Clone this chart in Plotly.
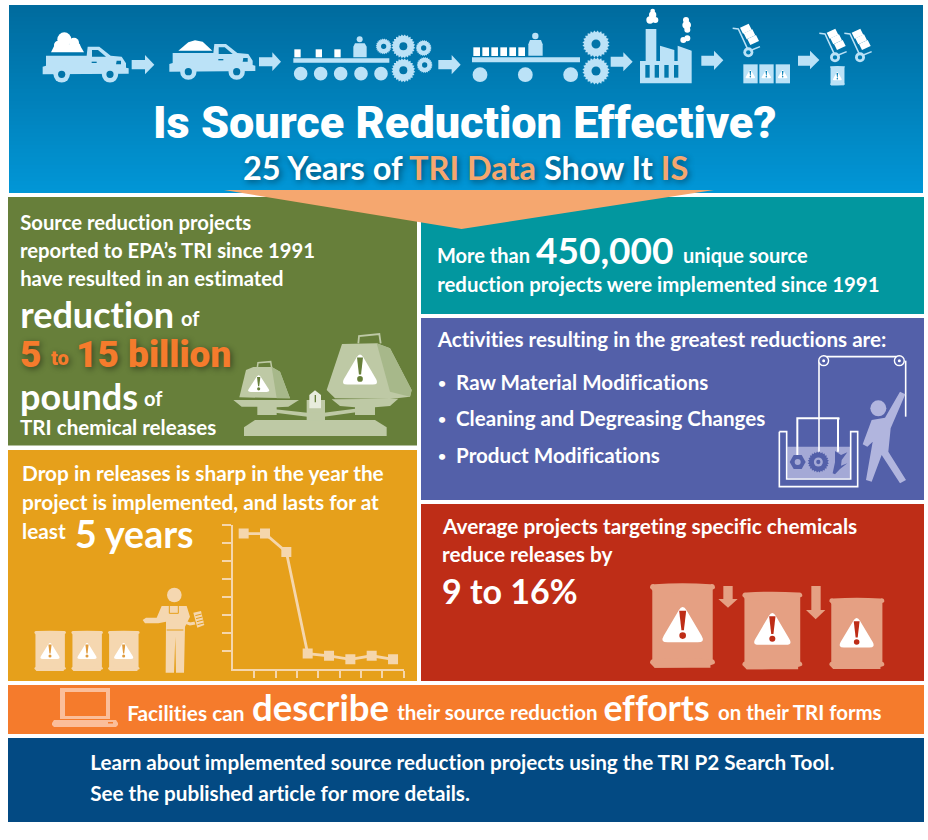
import math
import plotly.graph_objects as go

# released amount (unlabelled axis)
years = [1, 2, 3, 4, 5, 6, 7, 8]
releases = [7.52, 7.52, 6.5, 0.84, 0.72, 0.52, 0.72, 0.52]
x_ticks = [1.5, 2.5, 3.5, 4.5, 5.5, 6.5, 7.5, 8.5]
y_ticks = [1, 2, 3, 4, 5, 6, 7, 8]

title = "Is Source Reduction Effective?"
subtitle = '25 Years of <span style="color:#F5A76F">TRI Data</span> Show It <span style="color:#F5A76F">IS</span>'
green_lines = ["Source reduction projects", "reported to EPA\u2019s TRI since 1991", "have resulted in an estimated"]
purple_items = ["Raw Material Modifications", "Cleaning and Degreasing Changes", "Product Modifications"]
amber_lines = ["Drop in releases is sharp in the year the", "project is implemented, and lasts for at"]
red_lines = ["Average projects targeting specific chemicals", "reduce releases by"]
navy_lines = ["Learn about implemented source reduction projects using the TRI P2 Search Tool.",
              "See the published article for more details."]

FONT = "Lato"
HEAVY = "Roboto"
WHITE = "#FFFFFF"
ICON = "#BBE2F7"
shapes = []
notes = []


def rect(x0, y0, x1, y1, color):
    shapes.append(dict(type="rect", x0=x0, y0=y0, x1=x1, y1=y1, fillcolor=color, line_width=0, layer="below"))


def circ(cx, cy, r, color):
    shapes.append(dict(type="circle", x0=cx - r, y0=cy - r, x1=cx + r, y1=cy + r, fillcolor=color, line_width=0, layer="below"))


def poly(pts, color):
    d = "M" + " L".join("%.2f,%.2f" % p for p in pts) + " Z"
    shapes.append(dict(type="path", path=d, fillcolor=color, line_width=0, layer="below"))


def stroke(pts, color, w):
    d = "M" + " L".join("%.2f,%.2f" % p for p in pts)
    shapes.append(dict(type="path", path=d, line=dict(color=color, width=w), layer="below"))


def label(x, y, text, size, color=WHITE, anchor="left", weight=700, shadow=None, family=FONT):
    f = dict(family=family, size=size, color=color, weight=weight)
    if shadow:
        f["shadow"] = shadow
    notes.append(dict(x=x, y=y, xref="x", yref="y", text=text, showarrow=False, xanchor=anchor, yanchor="middle",
                      font=f, borderpad=0, borderwidth=0))


# icon coordinates below are taken from 3x crops, so every icon has its own origin
def zoomed(ox, oy):
    return lambda x, y: (ox + x / 3, oy + y / 3)


def gear(m, cx, cy, r, hole, color=ICON, dot=False):
    c = m(cx, cy)
    R = r / 3
    pts = []
    for i in range(48):
        a = i * math.pi / 24
        rr = R if i % 2 else R * 0.86
        pts.append((c[0] + rr * math.cos(a), c[1] + rr * math.sin(a)))
    poly(pts, color)
    circ(c[0], c[1], R * (0.42 if dot else 0.33), hole)
    if dot:
        circ(c[0], c[1], R * 0.2, color)


def warn(m, cx, cy, w, h, fill, mark):
    # triangle with rounded corners, a bit oversized because rounding eats the tips
    a = m(cx, cy - h * 0.58)
    l = m(cx - w * 0.58, cy + h * 0.52)
    r = m(cx + w * 0.58, cy + h * 0.52)
    v = [a, r, l]
    t = 0.17
    d = ""
    for i in range(3):
        cur, prv, nxt = v[i], v[i - 1], v[(i + 1) % 3]
        p1 = (cur[0] + (prv[0] - cur[0]) * t, cur[1] + (prv[1] - cur[1]) * t)
        p2 = (cur[0] + (nxt[0] - cur[0]) * t, cur[1] + (nxt[1] - cur[1]) * t)
        d += "%s%.2f,%.2f Q%.2f,%.2f %.2f,%.2f " % ("M" if i == 0 else "L", p1[0], p1[1], cur[0], cur[1], p2[0], p2[1])
    shapes.append(dict(type="path", path=d + "Z", fillcolor=fill, line_width=0, layer="below"))
    top = m(cx, cy - h / 2)
    hh = m(cx, cy + h / 2)[1] - top[1]
    ww = hh * 0.1
    poly([(top[0] - ww, top[1] + hh * 0.12), (top[0] + ww, top[1] + hh * 0.12), (top[0] + ww * 0.35, top[1] + hh * 0.68), (top[0] - ww * 0.35, top[1] + hh * 0.68)], mark)
    circ(top[0], top[1] + hh * 0.83, ww * 0.95, mark)


def drum(m, x0, y0, x1, y1, color):
    p0 = m(x0, y0)
    p1 = m(x1, y1)
    rim = (p1[1] - p0[1]) * 0.11
    ins = (p1[0] - p0[0]) * 0.035
    rect(p0[0] + ins, p0[1] + rim * 0.5, p1[0] - ins, p1[1] - rim * 0.5, color)
    for top, bot in ((p0[1], p0[1] + rim), (p1[1] - rim, p1[1])):
        mid = (top + bot) / 2
        d = "M%.2f,%.2f Q%.2f,%.2f %.2f,%.2f Q%.2f,%.2f %.2f,%.2f Q%.2f,%.2f %.2f,%.2f Q%.2f,%.2f %.2f,%.2f Z" % (
            p0[0], mid, p0[0], top, p0[0] + ins * 2, top + rim * 0.1,
            (p0[0] + p1[0]) / 2, top - rim * 0.1, p1[0] - ins * 2, top + rim * 0.1,
            p1[0], top, p1[0], mid, p1[0], bot, p0[0] + ins * 2, bot)
        shapes.append(dict(type="path", path=d, fillcolor=color, line_width=0, layer="below"))
        rect(p0[0] + ins * 2, mid, p1[0] - ins * 2, bot, color)


def arrow(m, x0, head, tip, y0, y1, top, bot, color=ICON):
    mid = (top + bot) / 2
    poly([m(x0, y0), m(head, y0), m(head, top), m(tip, mid), m(head, bot), m(head, y1), m(x0, y1)], color)


def truck(m, dx, dy, hole):
    t = lambda x, y: m(x + dx, y + dy)
    poly([t(78, 152), t(200, 152), t(203, 125), t(238, 125), t(272, 152), t(305, 155), t(318, 175), t(318, 188),
          t(326, 190), t(326, 206), t(68, 208), t(68, 185), t(78, 182)], ICON)
    for wx in (125, 270):
        c = t(wx, 208)
        circ(c[0], c[1], 8.2, ICON)
        circ(c[0], c[1], 3.6, hole)
    poly([t(216, 135), t(234, 135), t(258, 155), t(216, 155)], hole)
    poly([t(290, 167), t(303, 167), t(303, 178), t(288, 178)], hole)
    poly([t(215, 170), t(230, 170), t(230, 174), t(215, 174)], hole)


# ---- panels
top_c, bot_c = (0, 107, 158), (1, 150, 214)
n = 47
for i in range(n):
    f = i / (n - 1)
    col = "rgb(%d,%d,%d)" % tuple(round(top_c[k] + (bot_c[k] - top_c[k]) * f) for k in range(3))
    rect(9, 5 + i * 4, 923, 5 + (i + 1) * 4, col)
rect(8, 197, 417, 445.5, "#677F3A")
rect(421, 197, 924, 314, "#02979F")
rect(421, 318, 924, 500, "#5360A9")
rect(8, 450, 417, 681, "#E6A01B")
rect(421, 504, 924, 681, "#BE2D17")
rect(8, 685, 924, 734, "#F57B2C")
rect(8, 738, 924, 822, "#034A83")
poly([(224, 190), (714, 190), (461.5, 229)], "#F5A76F")

# ---- header icons
m4 = zoomed(20, 5)
m5 = zoomed(430, 5)
H1 = "#0174A8"
truck(m4, 0, 0, H1)
truck(m4, 380, -8, H1)
for cx, cy, r in ((133, 103, 21), (162, 113, 15), (115, 120, 13), (170, 124, 11)):
    p = m4(cx, cy)
    circ(p[0], p[1], r / 3, WHITE)
poly([m4(105, 118), m4(178, 118), m4(192, 142), m4(93, 142)], WHITE)
poly([m4(475, 137), m4(505, 112), m4(525, 106), m4(548, 110), m4(577, 137)], WHITE)
arrow(m4, 335, 375, 403, 165, 193, 150, 208)
arrow(m4, 717, 757, 783, 157, 184, 142, 198)
arrow(m4, 1255, 1295, 1322, 165, 193, 150, 208)
arrow(m5, 542, 580, 608, 155, 185, 142, 199)
arrow(m5, 814, 852, 880, 152, 182, 137, 195)
arrow(m5, 1104, 1140, 1168, 152, 182, 137, 193)

# first conveyor
poly([m4(820, 160), m4(1108, 160), m4(1108, 173), m4(820, 173)], ICON)
for x in (823, 887, 943):
    poly([m4(x, 133), m4(x + 19, 133), m4(x + 19, 157), m4(x, 157)], WHITE)
p = m4(1019, 103)
circ(p[0], p[1], 3, ICON)
poly([m4(1005, 115), m4(1034, 115), m4(1040, 125), m4(1040, 157), m4(1000, 157), m4(1000, 125)], ICON)
for x in (842, 902, 962, 1023, 1083):
    p = m4(x, 206)
    circ(p[0], p[1], 6.8, ICON)
gear(m4, 1150, 124, 36, H1)
gear(m4, 1150, 196, 36, H1)
gear(m4, 1091, 124, 24, H1)
gear(m4, 1211, 129, 24, H1)
gear(m4, 1214, 180, 24, H1)

# second conveyor
poly([m5(126, 157), m5(450, 157), m5(450, 172), m5(126, 172)], ICON)
for x in (130, 157, 184, 211, 238, 265):
    poly([m5(x, 127), m5(x + 20, 127), m5(x + 20, 153), m5(x, 153)], WHITE)
p = m5(316, 93)
circ(p[0], p[1], 3.2, ICON)
poly([m5(300, 105), m5(333, 105), m5(338, 118), m5(338, 152), m5(295, 152), m5(295, 118)], ICON)
for x in (150, 286, 422):
    p = m5(x, 209)
    circ(p[0], p[1], 7.4, ICON)
gear(m5, 498, 117, 41, H1)
gear(m5, 498, 198, 41, H1)

# factory
poly([m5(630, 235), m5(630, 168), m5(647, 168), m5(647, 72), m5(679, 72), m5(679, 168), m5(690, 168), m5(690, 122),
      m5(733, 135), m5(733, 168), m5(743, 168), m5(743, 122), m5(785, 137), m5(785, 235)], ICON)
for x in (646, 674, 703, 732):
    poly([m5(x, 180), m5(x + 13, 180), m5(x + 13, 218), m5(x, 218)], "#0178AC")
for cx, cy, r in ((668, 18, 7), (668, 30, 11), (660, 45, 11), (676, 45, 9), (768, 45, 9), (770, 60, 13), (772, 74, 9),
                  (760, 105, 9), (772, 100, 9)):
    p = m5(cx, cy)
    circ(p[0], p[1], r / 3, WHITE)


def hand_truck(dx, dy):
    t = lambda x, y: m5(x + dx, y + dy)
    stroke([t(908, 70), t(925, 72), t(952, 130)], ICON, 1.5)
    stroke([t(965, 135), t(990, 125)], ICON, 1.5)
    for k in range(3):
        bx, by = 930 + k * 11, 68 + k * 17
        poly([t(bx, by), t(bx + 26, by - 12), t(bx + 35, by + 6), t(bx + 9, by + 18)], WHITE)
    c = t(955, 142)
    circ(c[0], c[1], 5, ICON)
    circ(c[0], c[1], 2.2, "#017DB3")


hand_truck(0, 0)
hand_truck(260, 15)
hand_truck(335, 15)
for x0 in (940, 988, 1037):
    poly([m5(x0, 178), m5(x0 + 43, 178), m5(x0 + 43, 235), m5(x0, 235)], ICON)
    warn(m5, x0 + 21, 207, 28, 24, WHITE, "#017DB3")
drum(m5, 1200, 183, 1245, 241, ICON)
warn(m5, 1222, 213, 26, 24, WHITE, "#017DB3")

# ---- scale
m6 = zoomed(220, 320)
S = "#BEC9A5"
SD = "#A7B88A"
poly([m6(72, 348), m6(72, 322), m6(105, 300), m6(465, 300), m6(500, 322), m6(500, 348)], S)
rect(*m6(260, 240), *m6(315, 302), S)
poly([m6(130, 264), m6(262, 278), m6(312, 278), m6(440, 262), m6(440, 272), m6(312, 290), m6(262, 290), m6(130, 274)], S)
poly([m6(40, 240), m6(237, 240), m6(205, 260), m6(170, 262), m6(170, 285), m6(112, 285), m6(112, 260), m6(65, 260)], S)
poly([m6(335, 238), m6(535, 236), m6(510, 258), m6(465, 262), m6(465, 285), m6(405, 285), m6(405, 262), m6(360, 258)], S)
poly([m6(268, 265), m6(268, 225), m6(285, 211), m6(303, 225), m6(303, 265)], "#E8ECDD")
rect(*m6(284, 225), *m6(288, 247), "#677F3A")
stroke([m6(112, 143), m6(114, 128), m6(152, 125), m6(155, 143)], S, 1.5)
poly([m6(58, 232), m6(78, 150), m6(100, 141), m6(155, 141), m6(180, 155), m6(210, 235)], S)
poly([m6(155, 141), m6(180, 155), m6(210, 235), m6(170, 235)], SD)
stroke([m6(415, 70), m6(417, 48), m6(478, 42), m6(482, 70)], S, 1.8)
poly([m6(320, 210), m6(366, 72), m6(470, 70), m6(510, 85), m6(575, 210), m6(570, 230), m6(510, 237), m6(345, 235)], S)
poly([m6(470, 70), m6(510, 85), m6(575, 210), m6(570, 230), m6(510, 215)], SD)
warn(m6, 116, 190, 62, 50, WHITE, "#677F3A")
warn(m6, 420, 147, 100, 90, WHITE, "#677F3A")

# ---- tank and person
m7 = zoomed(760, 345)
L = "#A4A9D6"
P = "#B1B5DE"
rect(*m7(82, 305), *m7(272, 400), L)
stroke([m7(58, 260), m7(80, 260), m7(80, 402), m7(272, 402), m7(272, 260), m7(293, 260), m7(293, 425), m7(58, 425), m7(58, 260)], WHITE, 1.6)
stroke([m7(191, 35), m7(418, 35)], WHITE, 1.6)
stroke([m7(177, 47), m7(177, 320)], WHITE, 1.6)
stroke([m7(437, 47), m7(437, 215)], WHITE, 1.6)
stroke([m7(112, 330), m7(112, 220), m7(238, 220), m7(234, 222), m7(234, 320)], WHITE, 2)
for cx in (191, 418):
    c = m7(cx, 47)
    circ(c[0], c[1], 5.6, WHITE)
    circ(c[0], c[1], 4.2, "#5360A9")
    circ(c[0], c[1], 1.5, WHITE)
hc = m7(113, 351)
poly([(hc[0] + 8 * math.cos(i * math.pi / 3), hc[1] + 8 * math.sin(i * math.pi / 3)) for i in range(6)], "#5360A9")
circ(hc[0], hc[1], 3, L)
gear(m7, 175, 351, 32, L, "#5360A9", dot=True)
poly([m7(225, 318), m7(243, 330), m7(262, 322), m7(245, 345), m7(243, 362), m7(262, 355), m7(240, 372), m7(225, 388), m7(218, 385), m7(225, 352)], "#5360A9")
c = m7(355, 190)
circ(c[0], c[1], 8, P)
poly([m7(335, 225), m7(375, 218), m7(420, 140), m7(436, 148), m7(392, 250), m7(385, 320), m7(438, 405), m7(420, 415),
      m7(365, 330), m7(335, 410), m7(318, 405), m7(338, 290), m7(322, 305), m7(308, 298)], P)

# ---- amber panel people and drums
m8 = zoomed(20, 580)
A = "#F5D7B0"
for x0 in (43, 154, 264):
    drum(m8, x0, 152, x0 + 95, 273, A)
    warn(m8, x0 + 47, 212, 56, 48, WHITE, "#E09A3C")
p = m8(463, 45)
circ(p[0], p[1], 7.3, A)
poly([m8(425, 78), m8(500, 78), m8(510, 110), m8(495, 140), m8(492, 278), m8(468, 278), m8(466, 170), m8(462, 278),
      m8(437, 278), m8(438, 125), m8(415, 130), m8(375, 130), m8(368, 120), m8(378, 113), m8(410, 113)], A)
stroke([m8(448, 78), m8(448, 100), m8(475, 100), m8(475, 78)], "#E6A01B", 1)
stroke([m8(440, 150), m8(490, 150)], "#E6A01B", 1)
stroke([m8(490, 125), m8(510, 132), m8(530, 128)], A, 3)
poly([m8(515, 95), m8(545, 88), m8(558, 138), m8(530, 148)], "#E6A01B")
poly([m8(520, 98), m8(543, 93), m8(553, 135), m8(532, 143)], A)
for k in range(4):
    stroke([m8(526 + k * 2.2, 107 + k * 9), m8(545 + k * 2.2, 102 + k * 9)], "#E6A01B", 1)

# ---- red panel drums
m9 = zoomed(640, 570)
R = "#E5A083"
RD = "#BE2D17"
drum(m9, 30, 40, 225, 293, R)
drum(m9, 307, 65, 487, 298, R)
drum(m9, 568, 83, 733, 297, R)
warn(m9, 128, 162, 118, 105, WHITE, RD)
warn(m9, 397, 175, 106, 95, WHITE, RD)
warn(m9, 650, 187, 100, 88, WHITE, RD)
poly([m9(250, 48), m9(278, 48), m9(278, 87), m9(293, 87), m9(264, 113), m9(235, 87), m9(250, 87)], R)
poly([m9(514, 48), m9(542, 48), m9(542, 120), m9(556, 120), m9(527, 148), m9(498, 120), m9(514, 120)], R)

# ---- laptop
rect(60, 688, 110, 719, "#FBBE9A")
rect(65, 692, 106, 716, "#F57B2C")
poly([(54, 720), (116, 720), (118, 723), (118, 725), (116, 727), (54, 727), (52, 725), (52, 723)], "#FBBE9A")
rect(108, 722, 113, 723.5, "#F57B2C")

# ---- text
SH = "2px 2px 6px rgba(0,0,0,0.45)"
label(464, 122, title, 45, anchor="center", weight=900, family=HEAVY)
label(465, 167, subtitle, 32.5, anchor="center", shadow=SH)

for i, line in enumerate(green_lines):
    label(20, 222 + i * 28, line, 20.3)
label(20, 314, "reduction", 36)
label(181, 318, "of", 20)
label(20, 354, "5", 37, "#F57B2C", weight=900, shadow=SH, family=HEAVY)
label(51, 358, "to", 20, "#F57B2C", weight=900, shadow=SH, family=HEAVY)
label(76, 354, "15 billion", 37, "#F57B2C", weight=900, shadow=SH, family=HEAVY)
label(20, 396, "pounds", 36)
label(144, 398, "of", 20)
label(20, 427, "TRI chemical releases", 20.6)

label(437, 255, "More than", 20)
label(536, 249, "450,000", 37)
label(683, 255, "unique source", 20)
label(437, 284, "reduction projects were implemented since 1991", 20.4)

label(436, 339, "Activities resulting in the greatest reductions are:", 20.6)
for y, item in zip((382, 418, 455), purple_items):
    label(438, y, "\u2022", 14)
    label(456, y, item, 20.6)

for i, line in enumerate(amber_lines):
    label(22, 472 + i * 29, line, 20.8)
label(22, 530, "least", 20.8)
label(75, 533, "5 years", 37.5)

for i, line in enumerate(red_lines):
    label(442, 525 + i * 28, line, 20.8)
label(442, 590, "9 to 16%", 34)

label(127, 712, "Facilities can", 20.8)
label(252, 707, "describe", 36.5)
label(397, 712, "their source reduction", 20.5)
label(604, 707, "efforts", 35.6)
label(718, 712, "on their TRI forms", 20.4)

for i, line in enumerate(navy_lines):
    label(90, 762 + i * 31, line, 20.7)

# ---- the line chart, on its own axes
LC = "#F5D6AC"
trace = go.Scatter(x=years, y=releases, xaxis="x2", yaxis="y2", mode="lines+markers",
                   line=dict(color=LC, width=2.8), marker=dict(symbol="square", size=10, color=LC),
                   hoverinfo="skip", showlegend=False)

W, H = 928, 840
fig = go.Figure(data=[trace])
fig.update_layout(
    width=W, height=H, margin=dict(l=0, r=0, t=0, b=0), autosize=False,
    paper_bgcolor=WHITE, plot_bgcolor="rgba(0,0,0,0)", showlegend=False,
    shapes=shapes, annotations=notes,
    xaxis=dict(range=[0, W], visible=False, domain=[0, 1], fixedrange=True),
    yaxis=dict(range=[H, 0], visible=False, domain=[0, 1], fixedrange=True),
    xaxis2=dict(domain=[233 / W, 403.7 / W], range=[0.5, 8.5], anchor="y2", showgrid=False, zeroline=False,
                showline=True, linecolor=LC, linewidth=2, ticks="outside", ticklen=7, tickwidth=1.5, tickcolor=LC,
                tickvals=x_ticks, showticklabels=False),
    yaxis2=dict(domain=[1 - 668.7 / H, 1 - 525 / H], range=[0, 8], anchor="x2", showgrid=False, zeroline=False,
                showline=True, linecolor=LC, linewidth=2, ticks="outside", ticklen=9, tickwidth=1.5, tickcolor=LC,
                tickvals=y_ticks, showticklabels=False),
)
# the page's default body margin would shift everything 8px; also no "ti" ligatures in Lato
css = ("document.body.style.margin='0';"
       "var st=document.createElement('style');"
       "st.textContent='text{font-variant-ligatures:none;font-feature-settings:\"liga\" 0}';"
       "document.head.appendChild(st);")
fig.write_html("out.html", config=dict(displayModeBar=False), post_script=css)
